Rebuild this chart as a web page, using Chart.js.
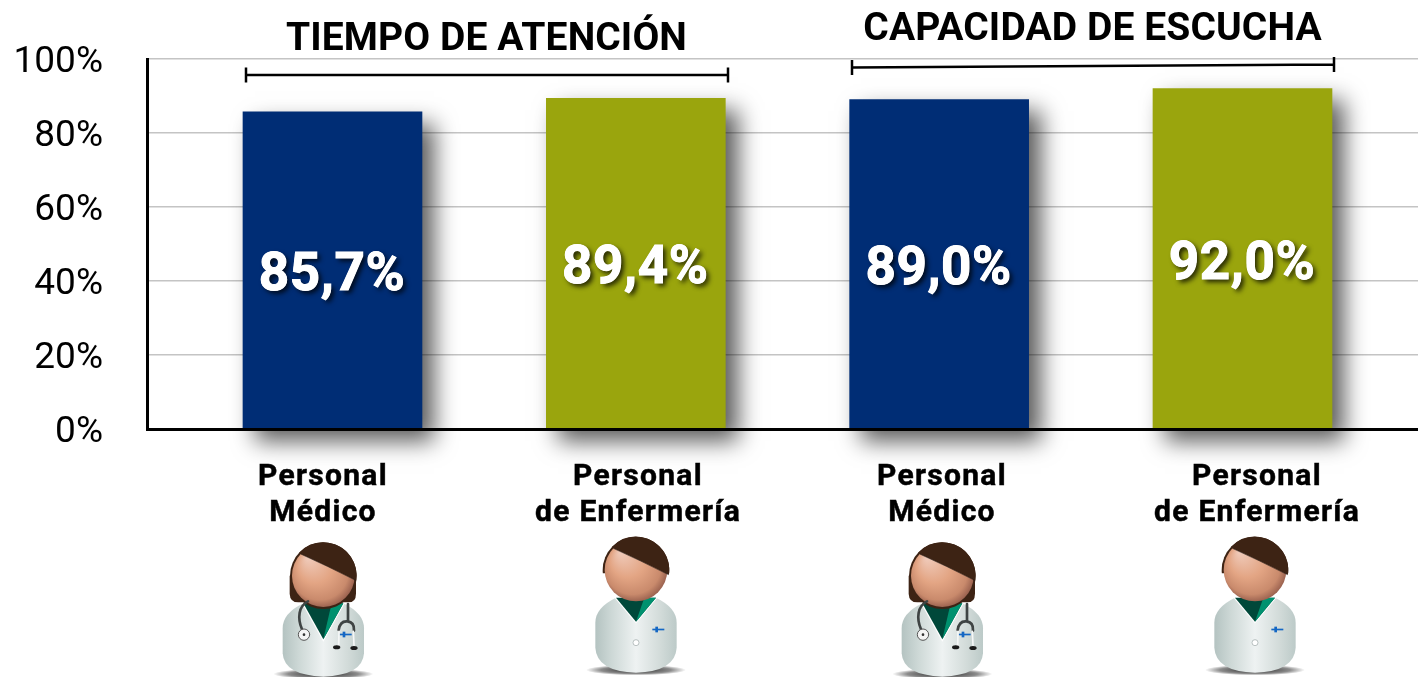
<!DOCTYPE html>
<html lang="es">
<head>
    <meta charset="UTF-8">
    <title>Tiempo de atención y capacidad de escucha</title>
    <script src="https://cdn.jsdelivr.net/npm/chart.js"></script>
    <style>
        html, body { margin: 0; padding: 0; background: #fff; overflow: hidden; }
        canvas { display: block; }
    </style>
</head>
<body>
    <canvas id="chart" width="1418" height="677"></canvas>
    <script>
        const categories = [['Personal', 'Médico'], ['Personal', 'de Enfermería'], ['Personal', 'Médico'], ['Personal', 'de Enfermería']];
        const values = [85.7, 89.4, 89.0, 92.0];
        const yTicks = [0, 20, 40, 60, 80, 100];
        const groupTitles = ['TIEMPO DE ATENCIÓN', 'CAPACIDAD DE ESCUCHA'];

        const barColors = ['#002d75', '#9aa50d', '#002d75', '#9aa50d'];
        const font = 'Roboto, sans-serif';

        // the labels and figures do not sit exactly under the bars in the original
        const labelCenters = [323, 638, 942, 1257];
        const figureOrigins = [[250, 530, true], [570, 530, false], [869, 530, true], [1189, 530, false]];

        // figure coordinates are in 3x units, same as the zoomed crops
        function drawFigure(ctx, ox, oy, isDoctor) {
            ctx.save();
            ctx.translate(ox, oy);
            ctx.scale(1 / 3, 1 / 3);
            const cx = isDoctor ? 220 : 198;
            const headY = isDoctor ? 137 : 120;
            const bodyTop = isDoctor ? 220 : 203;
            const bodyBottom = isDoctor ? 440 : 428;

            // floor shadow
            const shadow = ctx.createRadialGradient(0, 0, 0, 0, 0, 1);
            shadow.addColorStop(0, 'rgba(0,0,0,0.85)');
            shadow.addColorStop(0.7, 'rgba(0,0,0,0.45)');
            shadow.addColorStop(1, 'rgba(0,0,0,0)');
            ctx.save();
            ctx.translate(cx, bodyBottom - 8);
            ctx.scale(150, 16);
            ctx.fillStyle = shadow;
            ctx.beginPath();
            ctx.arc(0, 0, 1, 0, Math.PI * 2);
            ctx.fill();
            ctx.restore();

            // coat
            const coat = ctx.createLinearGradient(cx - 122, 0, cx + 122, 0);
            coat.addColorStop(0, '#b4c3c1');
            coat.addColorStop(0.2, '#cdd8d6');
            coat.addColorStop(0.5, '#eef2f2');
            coat.addColorStop(0.8, '#d2dbd9');
            coat.addColorStop(1, '#bccac8');
            ctx.fillStyle = coat;
            ctx.beginPath();
            ctx.moveTo(cx - 60, bodyTop);
            ctx.quadraticCurveTo(cx - 122, bodyTop + 30, cx - 122, bodyTop + 75);
            ctx.lineTo(cx - 122, bodyTop + 150);
            ctx.quadraticCurveTo(cx - 118, bodyBottom - 4, cx, bodyBottom);
            ctx.quadraticCurveTo(cx + 118, bodyBottom - 4, cx + 122, bodyTop + 150);
            ctx.lineTo(cx + 122, bodyTop + 75);
            ctx.quadraticCurveTo(cx + 122, bodyTop + 30, cx + 60, bodyTop);
            ctx.closePath();
            ctx.fill();

            // collar V
            const vDepth = isDoctor ? 108 : 72;
            const vWide = 60;
            ctx.strokeStyle = '#ffffff';
            ctx.lineWidth = 7;
            ctx.fillStyle = '#00483a';
            ctx.beginPath();
            ctx.moveTo(cx - vWide, bodyTop);
            ctx.lineTo(cx + vWide, bodyTop);
            ctx.lineTo(cx, bodyTop + vDepth);
            ctx.closePath();
            ctx.stroke();
            ctx.fill();
            ctx.fillStyle = '#00916f';
            ctx.beginPath();
            ctx.moveTo(cx + 25, bodyTop);
            ctx.lineTo(cx + vWide, bodyTop);
            ctx.lineTo(cx, bodyTop + vDepth);
            ctx.closePath();
            ctx.fill();

            // hair behind the face, only the doctor has the long cut
            ctx.fillStyle = '#3d2314';
            ctx.save();
            if (!isDoctor) {
                ctx.beginPath();
                ctx.rect(cx - 120, headY - 120, 240, 130);
                ctx.clip();
            }
            ctx.beginPath();
            ctx.arc(cx, headY, 100, 0, Math.PI * 2);
            ctx.fill();
            ctx.restore();
            if (isDoctor) {
                ctx.beginPath();
                ctx.moveTo(cx - 101, headY);
                ctx.lineTo(cx - 101, headY + 54);
                ctx.quadraticCurveTo(cx - 100, headY + 80, cx - 75, headY + 80);
                ctx.lineTo(cx + 75, headY + 80);
                ctx.quadraticCurveTo(cx + 98, headY + 80, cx + 98, headY + 54);
                ctx.lineTo(cx + 98, headY);
                ctx.closePath();
                ctx.fill();
            }

            // face
            const face = ctx.createRadialGradient(cx - 45, headY - 55, 5, cx - 5, headY - 5, 100);
            face.addColorStop(0, '#efc9b8');
            face.addColorStop(0.5, '#e3a584');
            face.addColorStop(0.85, '#c98a6c');
            face.addColorStop(1, '#9c6350');
            ctx.fillStyle = face;
            ctx.beginPath();
            ctx.arc(cx, headY, 94, 0, Math.PI * 2);
            ctx.fill();

            // fringe over the face
            ctx.fillStyle = '#3d2314';
            ctx.strokeStyle = '#111';
            ctx.lineWidth = 1.5;
            ctx.beginPath();
            ctx.moveTo(cx - 68, headY - 65);
            ctx.quadraticCurveTo(cx + 10, headY - 30, cx + 100, headY + 15);
            ctx.arc(cx, headY, 100, 0.15, -2.38, true);
            ctx.closePath();
            ctx.fill();
            ctx.beginPath();
            ctx.moveTo(cx - 68, headY - 65);
            ctx.quadraticCurveTo(cx + 10, headY - 30, cx + 97, headY + 14);
            ctx.stroke();

            // logo on the chest
            const logoX = isDoctor ? 287 : 265;
            const logoY = isDoctor ? 313 : 298;
            ctx.fillStyle = '#1467c4';
            ctx.fillRect(logoX - 18, logoY - 2, 36, 5);
            ctx.fillRect(logoX - 9, logoY - 8, 8, 17);

            if (isDoctor) {
                // stethoscope
                ctx.lineCap = 'round';
                ctx.strokeStyle = '#3f4444';
                ctx.lineWidth = 8;
                ctx.beginPath();
                ctx.moveTo(174, 214);
                ctx.bezierCurveTo(145, 228, 142, 265, 156, 298);
                ctx.stroke();
                ctx.beginPath();
                ctx.moveTo(294, 222);
                ctx.lineTo(294, 272);
                ctx.stroke();
                ctx.beginPath();
                ctx.moveTo(266, 300);
                ctx.quadraticCurveTo(270, 272, 292, 274);
                ctx.quadraticCurveTo(314, 276, 312, 302);
                ctx.stroke();
                ctx.strokeStyle = '#f5f7f7';
                ctx.lineWidth = 5;
                ctx.beginPath();
                ctx.moveTo(267, 304);
                ctx.lineTo(266, 346);
                ctx.moveTo(310, 304);
                ctx.lineTo(312, 346);
                ctx.stroke();
                ctx.fillStyle = '#1a1a1a';
                ctx.beginPath();
                ctx.ellipse(260, 352, 11, 6, 0, 0, Math.PI * 2);
                ctx.ellipse(312, 354, 11, 6, 0, 0, Math.PI * 2);
                ctx.fill();
                // chest piece
                ctx.fillStyle = '#f4f4f4';
                ctx.strokeStyle = '#555';
                ctx.lineWidth = 3;
                ctx.beginPath();
                ctx.arc(162, 314, 17, 0, Math.PI * 2);
                ctx.fill();
                ctx.stroke();
                ctx.fillStyle = '#333';
                ctx.beginPath();
                ctx.arc(162, 314, 4, 0, Math.PI * 2);
                ctx.fill();
            } else {
                // coat button
                ctx.fillStyle = '#ffffff';
                ctx.strokeStyle = '#9aa5a4';
                ctx.lineWidth = 2;
                ctx.beginPath();
                ctx.arc(198, 338, 9, 0, Math.PI * 2);
                ctx.fill();
                ctx.stroke();
            }
            ctx.restore();
        }

        function drawBracket(ctx, x1, y1, x2, y2) {
            ctx.strokeStyle = '#000';
            ctx.lineWidth = 2.5;
            ctx.beginPath();
            ctx.moveTo(x1, y1);
            ctx.lineTo(x2, y2);
            ctx.moveTo(x1, y1 - 7.5);
            ctx.lineTo(x1, y1 + 7.5);
            ctx.moveTo(x2, y2 - 7.5);
            ctx.lineTo(x2, y2 + 7.5);
            ctx.stroke();
        }

        // drop shadow under the bars
        const barShadow = {
            id: 'barShadow',
            beforeDatasetDraw(chart) {
                const ctx = chart.ctx;
                ctx.save();
                ctx.shadowColor = 'rgba(0,0,0,0.65)';
                ctx.shadowBlur = 22;
                ctx.shadowOffsetX = 12;
                ctx.shadowOffsetY = 12;
            },
            afterDatasetDraw(chart) {
                chart.ctx.restore();
            }
        };

        const annotations = {
            id: 'annotations',
            afterDraw(chart) {
                const ctx = chart.ctx;
                ctx.save();

                // percentages inside the bars
                ctx.font = 'bold 53px ' + font;
                ctx.letterSpacing = '0.6px';
                ctx.textAlign = 'center';
                ctx.textBaseline = 'middle';
                ctx.fillStyle = '#fff';
                ctx.strokeStyle = '#fff';
                ctx.lineWidth = 1;
                chart.getDatasetMeta(0).data.forEach((bar, i) => {
                    const text = values[i].toFixed(1).replace('.', ',') + '%';
                    const y = (bar.y + bar.base) / 2 + 7;
                    ctx.shadowColor = 'rgba(0,0,0,0.8)';
                    ctx.shadowBlur = 5;
                    ctx.shadowOffsetX = 3;
                    ctx.shadowOffsetY = 3;
                    ctx.fillText(text, bar.x - 0.5, y);
                    // second pass without shadow, otherwise the stroke's shadow greys the fill
                    ctx.shadowColor = 'transparent';
                    ctx.fillText(text, bar.x - 0.5, y);
                    ctx.strokeText(text, bar.x - 0.5, y);
                });

                // group titles
                ctx.fillStyle = '#000';
                ctx.textBaseline = 'alphabetic';
                ctx.font = 'bold 39px ' + font;
                ctx.letterSpacing = '0.1px';
                ctx.fillText(groupTitles[0], 486.5, 50);
                ctx.fillText(groupTitles[1], 1092.5, 40);
                drawBracket(ctx, 246, 75, 728, 75);
                drawBracket(ctx, 852, 67.5, 1334, 64.5);

                // category labels
                ctx.font = 'bold 30px ' + font;
                ctx.letterSpacing = '1.3px';
                ctx.strokeStyle = '#000';
                ctx.lineWidth = 0.5;
                categories.forEach((lines, i) => {
                    lines.forEach((line, j) => {
                        ctx.fillText(line, labelCenters[i], 485 + j * 36);
                        ctx.strokeText(line, labelCenters[i], 485 + j * 36);
                    });
                });
                ctx.restore();
                ctx.letterSpacing = '0px';

                figureOrigins.forEach(f => drawFigure(ctx, f[0], f[1], f[2]));
            }
        };

        new Chart(document.getElementById('chart'), {
            type: 'bar',
            data: {
                datasets: [{
                    data: values.map((v, i) => ({ x: i, y: v })),
                    backgroundColor: barColors,
                    barThickness: 179,
                    clip: false
                }]
            },
            plugins: [barShadow, annotations],
            options: {
                responsive: false,
                animation: false,
                layout: { padding: { top: 59, bottom: 248, left: 0, right: 0 } },
                plugins: {
                    legend: { display: false },
                    tooltip: { enabled: false }
                },
                scales: {
                    x: {
                        type: 'linear',
                        offset: false,
                        min: -0.6115,
                        max: 3.5786,
                        afterFit(scale) { scale.height = 0; },
                        grid: { display: false },
                        ticks: { display: false },
                        border: { color: '#000', width: 3, z: 1 }
                    },
                    y: {
                        min: 0,
                        max: 100,
                        afterFit(scale) { scale.width = 147; },
                        afterBuildTicks(scale) { scale.ticks = yTicks.map(value => ({ value })); },
                        grid: { color: '#c4c4c4', lineWidth: 1.5, drawTicks: false },
                        border: { color: '#000', width: 3, z: 1 },
                        ticks: {
                            padding: 44,
                            color: '#000',
                            // empty first line pushes the label down a few px, Roboto sits high on the gridline
                            font: { family: font, size: 37, lineHeight: '7px' },
                            callback: v => ['', v + '%']
                        }
                    }
                }
            }
        });
    </script>
</body>
</html>
